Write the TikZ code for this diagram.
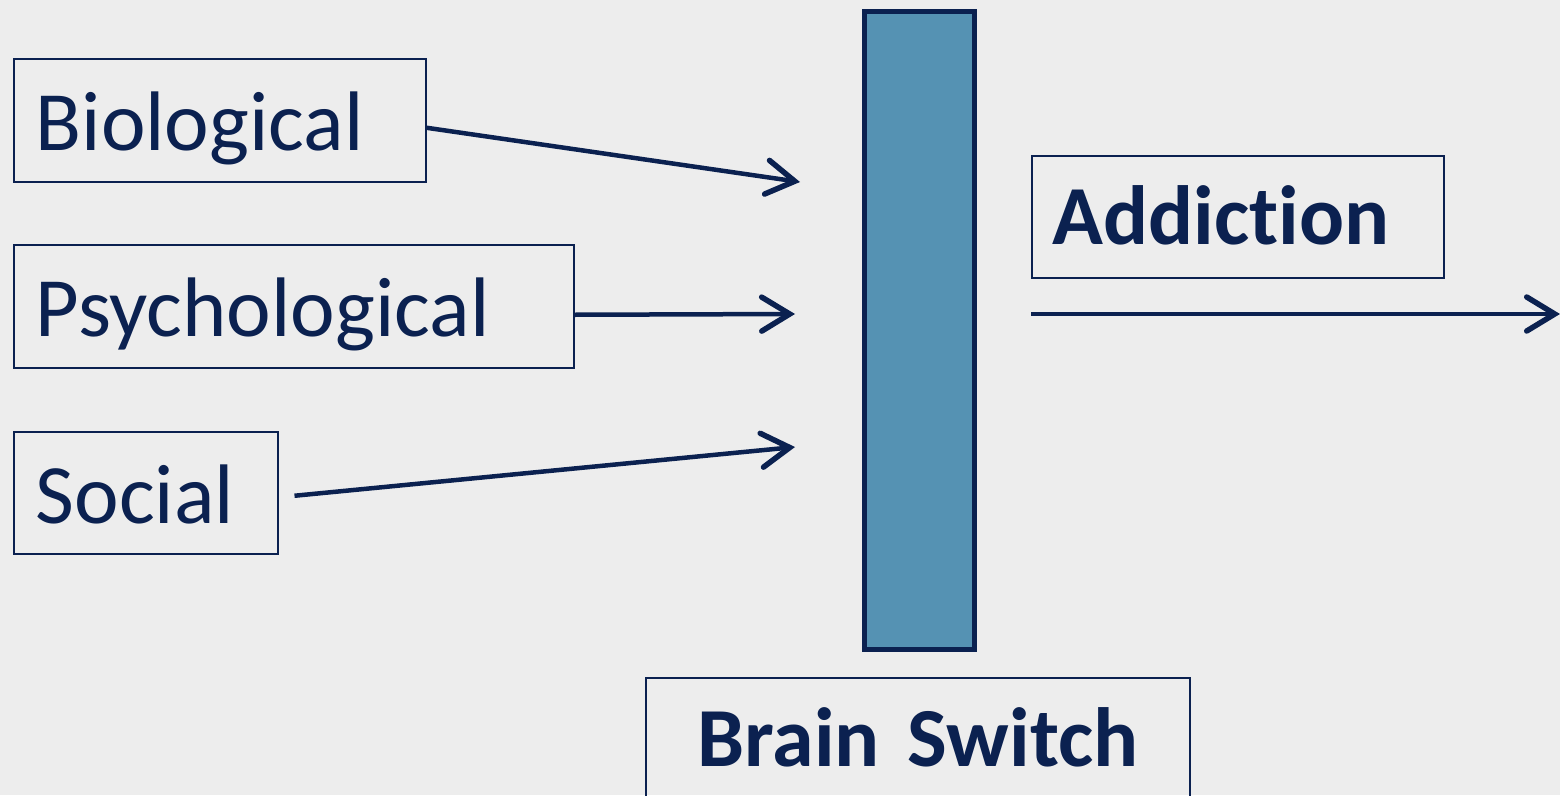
\documentclass[tikz,border=0pt]{standalone}
\usepackage{fontspec}
\setmainfont{Carlito}[Ligatures=NoCommon]
\usetikzlibrary{arrows.meta,calc}
\definecolor{navy}{HTML}{0B2150}
\definecolor{barblue}{HTML}{5592B3}
\definecolor{bg}{HTML}{EDEDED}
\tikzset{
  lbox/.style={draw=navy, line width=1.5pt, rectangle, anchor=north west, inner xsep=22pt, inner ysep=0pt, align=left, text=navy, font=\fontsize{84.5}{100}\selectfont, text height=70pt, text depth=9pt},
  bbox/.style={lbox, font=\bfseries\fontsize{84}{100}\selectfont, text height=64pt, text depth=9pt},
  arr/.style={draw=navy, line width=4.5pt, -{Straight Barb[length=28pt,width=34pt,line width=5.5pt,line cap=round]}},
}
\begin{document}
\begin{tikzpicture}[x=1pt,y=-1pt]
\fill[bg] (0,0) rectangle (1560,795);
\useasboundingbox (0,0) rectangle (1560,795);
\node[lbox, minimum width=412pt, minimum height=123pt, text width=368pt] (bio) at (13,58) {Biological};
\node[lbox, minimum width=560pt, minimum height=123pt, text width=516pt] (psy) at (13,244) {Psychological};
\node[lbox, minimum width=264pt, minimum height=122pt, text width=220pt] (soc) at (13,431) {Social};
\node[bbox, minimum width=412pt, minimum height=122pt, text width=370pt, inner xsep=21pt] (add) at (1031,155) {Addiction};
\node[bbox, minimum width=544pt, minimum height=122pt, align=center, text width=500pt] (brain) at (645,677) {Brain Switch};
\node[draw=navy, fill=barblue, line width=5pt, rectangle, anchor=north west, minimum width=110pt, minimum height=638pt] (bar) at (862,9) {};
\coordinate (bioend) at (800,182);
\coordinate (psyend) at (795,314);
\coordinate (socend) at (795,447);
\coordinate (addstart) at (1031,314);
\coordinate (addend) at (1560,314);
\draw[arr] ([yshift=-7.5pt]bio.east) -- (bioend);
\draw[arr] ([yshift=-8.5pt]psy.east) -- (psyend);
\draw[arr] ([xshift=16pt,yshift=-3pt]soc.east) -- (socend);
\draw[arr] (addstart) -- (addend);
\end{tikzpicture}
\end{document}
